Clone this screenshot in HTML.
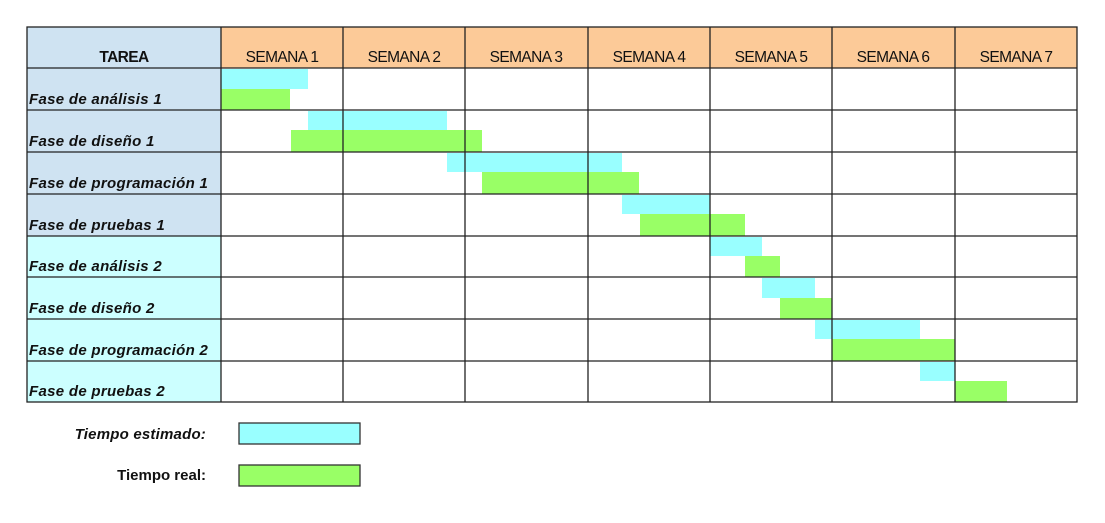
<!DOCTYPE html>
<html><head><meta charset="utf-8"><style>
html,body{margin:0;padding:0;background:#fff;width:1105px;height:523px;overflow:hidden}
svg{display:block}
text{font-family:"Liberation Sans",Arial,sans-serif}
</style></head><body>
<svg width="1105" height="523" viewBox="0 0 1105 523" xmlns="http://www.w3.org/2000/svg">
<rect x="27" y="27" width="194" height="209" fill="#cfe3f2"/>
<rect x="27" y="236" width="194" height="166" fill="#ccffff"/>
<rect x="221" y="27" width="856" height="41" fill="#fcca98"/>
<g fill="#99ffff">
<rect x="221" y="69" width="87" height="20"/>
<rect x="308" y="111" width="139" height="19"/>
<rect x="447" y="153" width="175" height="19"/>
<rect x="622" y="195" width="88" height="19"/>
<rect x="710" y="237" width="52" height="19"/>
<rect x="762" y="278" width="53" height="20"/>
<rect x="815" y="320" width="105" height="19"/>
<rect x="920" y="362" width="35" height="19"/>
</g>
<g fill="#99ff66">
<rect x="221" y="89" width="69" height="21"/>
<rect x="291" y="130" width="191" height="22"/>
<rect x="482" y="172" width="157" height="22"/>
<rect x="640" y="214" width="105" height="22"/>
<rect x="745" y="256" width="35" height="21"/>
<rect x="780" y="298" width="52" height="21"/>
<rect x="832" y="339" width="123" height="22"/>
<rect x="955" y="381" width="52" height="21"/>
</g>
<g stroke="#222" stroke-width="1.3" fill="none">
<rect x="27" y="27" width="1050" height="375"/>
<line x1="27" y1="68" x2="1077" y2="68"/>
<line x1="27" y1="110" x2="1077" y2="110"/>
<line x1="27" y1="152" x2="1077" y2="152"/>
<line x1="27" y1="194" x2="1077" y2="194"/>
<line x1="27" y1="236" x2="1077" y2="236"/>
<line x1="27" y1="277" x2="1077" y2="277"/>
<line x1="27" y1="319" x2="1077" y2="319"/>
<line x1="27" y1="361" x2="1077" y2="361"/>
<line x1="221" y1="27" x2="221" y2="402"/>
<line x1="343" y1="27" x2="343" y2="402"/>
<line x1="465" y1="27" x2="465" y2="402"/>
<line x1="588" y1="27" x2="588" y2="402"/>
<line x1="710" y1="27" x2="710" y2="402"/>
<line x1="832" y1="27" x2="832" y2="402"/>
<line x1="955" y1="27" x2="955" y2="402"/>
</g>
<g font-size="15.5" text-anchor="middle" fill="#111" letter-spacing="-0.6">
<text x="124" y="62" font-weight="bold">TAREA</text>
<text x="282" y="62">SEMANA 1</text>
<text x="404" y="62">SEMANA 2</text>
<text x="526" y="62">SEMANA 3</text>
<text x="649" y="62">SEMANA 4</text>
<text x="771" y="62">SEMANA 5</text>
<text x="893" y="62">SEMANA 6</text>
<text x="1016" y="62">SEMANA 7</text>
</g>
<g font-size="15" font-weight="bold" font-style="italic" fill="#111" letter-spacing="0.3">
<text x="29" y="104">Fase de análisis 1</text>
<text x="29" y="146">Fase de diseño 1</text>
<text x="29" y="188">Fase de programación 1</text>
<text x="29" y="230">Fase de pruebas 1</text>
<text x="29" y="271">Fase de análisis 2</text>
<text x="29" y="313">Fase de diseño 2</text>
<text x="29" y="355">Fase de programación 2</text>
<text x="29" y="396">Fase de pruebas 2</text>
</g>
<text x="206" y="439" font-size="15" font-weight="bold" font-style="italic" text-anchor="end" fill="#111" letter-spacing="0.2">Tiempo estimado:</text>
<text x="206" y="480" font-size="15" font-weight="bold" text-anchor="end" fill="#111" letter-spacing="0">Tiempo real:</text>
<rect x="239" y="423" width="121" height="21" fill="#99ffff" stroke="#333" stroke-width="1.3"/>
<rect x="239" y="465" width="121" height="21" fill="#99ff66" stroke="#333" stroke-width="1.3"/>
</svg>
</body></html>
